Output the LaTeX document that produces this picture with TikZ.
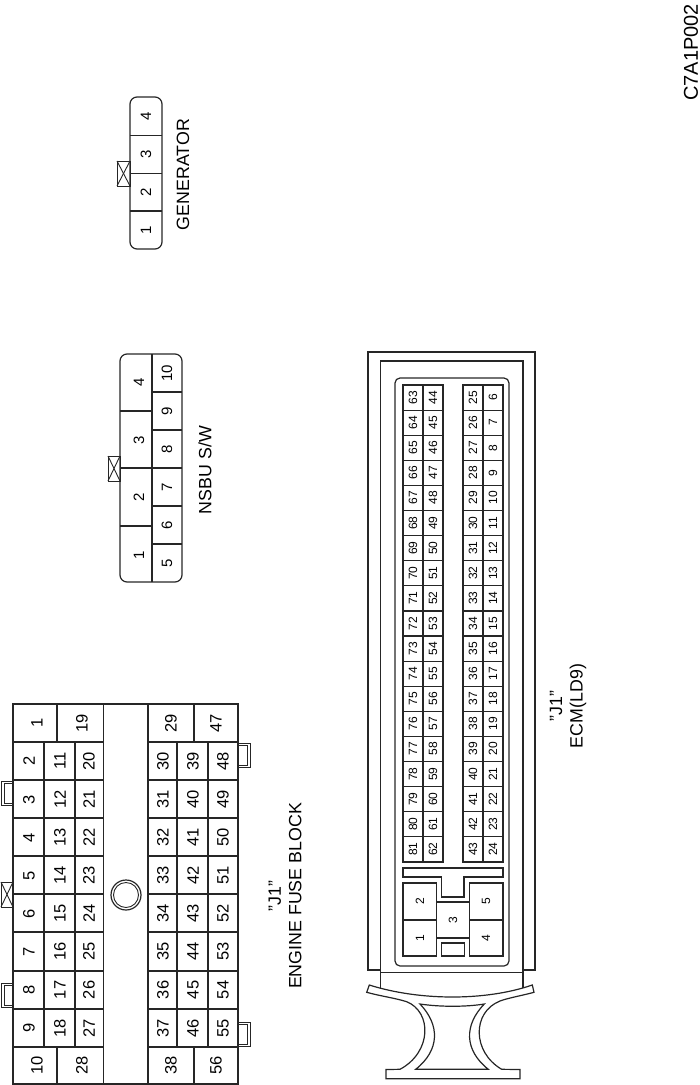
\documentclass[tikz,border=0pt]{standalone}
\usepackage{fontspec}
\setmainfont{Liberation Sans}
\tikzset{
	wire/.style={draw=black!85, line width=1.2pt},
	thinwire/.style={draw=black!85, line width=0.9pt},
	bignum/.style={rotate=90, inner sep=0pt, font=\fontsize{16.5}{16.5}\selectfont},
	midnum/.style={rotate=90, inner sep=0pt, font=\fontsize{15}{15}\selectfont},
	pinnum/.style={rotate=90, inner sep=0pt, font=\fontsize{12}{12}\selectfont},
	caption/.style={rotate=90, inner sep=0pt, align=center, font=\fontsize{17.8}{20.5}\selectfont},
}
\begin{document}
\begin{tikzpicture}[x=1pt, y=-1pt]
	\useasboundingbox (0,0) rectangle (700,1085);

	% fuse block
	\draw[wire] (13,704) rectangle (238,1084);
	\draw[wire] (103.5,704) -- (103.5,1084);
	\draw[wire] (148,704) -- (148,1084);
	\foreach \y in {742,780,818,856,894,932,971,1009,1047} {
		\draw[wire] (13,\y) -- (103.5,\y);
		\draw[wire] (148,\y) -- (238,\y);
	}
	\draw[wire] (57,704) -- (57,742);
	\draw[wire] (57,1047) -- (57,1084);
	\draw[wire] (194,704) -- (194,742);
	\draw[wire] (194,1047) -- (194,1084);
	\foreach \x in {44,75,177,208} {
		\draw[wire] (\x,742) -- (\x,1047);
	}
	\foreach \i in {0,...,7} {
		\pgfmathsetmacro{\ypos}{1028-38.1*\i}
		\pgfmathtruncatemacro{\na}{9-\i}
		\pgfmathtruncatemacro{\nb}{18-\i}
		\pgfmathtruncatemacro{\nc}{27-\i}
		\pgfmathtruncatemacro{\nd}{37-\i}
		\pgfmathtruncatemacro{\ne}{46-\i}
		\pgfmathtruncatemacro{\nf}{55-\i}
		\node[bignum] (fa\i) at (29,\ypos) {\na};
		\node[bignum] (fb\i) at (60,\ypos) {\nb};
		\node[bignum] (fc\i) at (89,\ypos) {\nc};
		\node[bignum] (fd\i) at (163,\ypos) {\nd};
		\node[bignum] (fe\i) at (193,\ypos) {\ne};
		\node[bignum] (ff\i) at (223,\ypos) {\nf};
	}
	\node[bignum] (f1) at (37,723) {1};
	\node[bignum] (f19) at (82,723) {19};
	\node[bignum] (f29) at (171,723) {29};
	\node[bignum] (f47) at (216,723) {47};
	\node[bignum] (f10) at (37,1065) {10};
	\node[bignum] (f28) at (82,1065) {28};
	\node[bignum] (f38) at (171,1065) {38};
	\node[bignum] (f56) at (216,1065) {56};
	\draw[wire] (126,895) circle (15);
	\draw[thinwire] (126,895) circle (12.5);

	% fuse block clips
	\foreach \y in {781,983} {
		\draw[thinwire] (13,\y) -- (1,\y) -- (1,\y+24) -- (13,\y+24);
		\draw[thinwire] (13,\y+2) -- (4,\y+2) -- (4,\y+22) -- (13,\y+22);
	}
	\foreach \y in {743,1022} {
		\draw[thinwire] (238,\y) -- (250,\y) -- (250,\y+24) -- (238,\y+24);
		\draw[thinwire] (238,\y+2) -- (247,\y+2) -- (247,\y+22) -- (238,\y+22);
	}
	\draw[thinwire] (1,882) rectangle (13,907);
	\draw[thinwire] (1,882) -- (13,907);
	\draw[thinwire] (1,907) -- (13,882);
	\node[caption] (fuselabel) at (285,896) {"J1"\\ENGINE FUSE BLOCK};

	% NSBU connector
	\draw[wire, rounded corners=7pt] (120,354) rectangle (182,582);
	\draw[wire] (152,354) -- (152,582);
	\foreach \y in {411,468,526} {
		\draw[wire] (120,\y) -- (152,\y);
	}
	\foreach \y in {392,430,468,506,544} {
		\draw[wire] (152,\y) -- (182,\y);
	}
	\foreach \n/\y in {4/382,3/440,2/497,1/555} {
		\node[midnum] (ns\n) at (139,\y) {\n};
	}
	\foreach \n/\y in {10/373,9/411,8/449,7/487,6/525,5/563} {
		\node[midnum] (nt\n) at (167,\y) {\n};
	}
	\draw[thinwire] (108,456) rectangle (120,481);
	\draw[thinwire] (108,456) -- (120,481);
	\draw[thinwire] (108,481) -- (120,456);
	\node[caption] (nsbulabel) at (205,470) {NSBU S/W};

	% generator connector
	\draw[wire, rounded corners=7pt] (130,97) rectangle (162,249);
	\foreach \y in {135.5,173.5,211} {
		\draw[wire] (130,\y) -- (162,\y);
	}
	\foreach \n/\y in {4/116,3/154,2/192,1/230} {
		\node[midnum] (g\n) at (146,\y) {\n};
	}
	\draw[thinwire] (117,161) rectangle (130,186);
	\draw[thinwire] (117,161) -- (130,186);
	\draw[thinwire] (117,186) -- (130,161);
	\node[caption] (genlabel) at (183,174.5) {GENERATOR};

	% ECM housing
	\draw[wire] (380.5,970) -- (368,970) -- (368,352) -- (535,352) -- (535,970) -- (523,970);
	\draw[wire] (380.5,988) -- (380.5,361) -- (523,361) -- (523,988);
	\draw[thinwire] (380.5,972) -- (523,972);
	\draw[wire, rounded corners=5pt] (395,378) rectangle (509,966);

	% ECM pins
	\draw[wire] (403,385) rectangle (443,862);
	\draw[wire] (463,385) rectangle (503,862);
	\draw[wire] (423,385) -- (423,862);
	\draw[wire] (483,385) -- (483,862);
	\foreach \i in {0,...,18} {
		\pgfmathsetmacro{\ypos}{397.5+25.1*\i}
		\pgfmathsetmacro{\yline}{385+25.1*\i}
		\pgfmathtruncatemacro{\na}{63+\i}
		\pgfmathtruncatemacro{\nb}{44+\i}
		\pgfmathtruncatemacro{\nc}{25+\i}
		\pgfmathtruncatemacro{\nd}{6+\i}
		\draw[wire] (403,\yline) -- (443,\yline);
		\draw[wire] (463,\yline) -- (503,\yline);
		\node[pinnum] (ea\i) at (413,\ypos) {\na};
		\node[pinnum] (eb\i) at (433,\ypos) {\nb};
		\node[pinnum] (ec\i) at (473,\ypos) {\nc};
		\node[pinnum] (ed\i) at (493,\ypos) {\nd};
	}

	% ECM power cavities
	\draw[wire] (403,868) -- (503,868) -- (503,877) -- (464,877) -- (464,897) -- (441.5,897) -- (441.5,877) -- (403,877) -- cycle;
	\draw[wire] (403,883) rectangle (436.5,956);
	\draw[wire] (403,920) -- (436.5,920);
	\draw[wire] (469.5,883) rectangle (503,956);
	\draw[wire] (469.5,920) -- (503,920);
	\draw[wire] (436.5,902) -- (469.5,902);
	\draw[wire] (436.5,938) -- (469.5,938);
	\draw[wire] (441.5,943) rectangle (464.5,956);
	\node[pinnum] (e1) at (420,938) {1};
	\node[pinnum] (e2) at (420,901) {2};
	\node[pinnum] (e3) at (453,920) {3};
	\node[pinnum] (e4) at (486,938) {4};
	\node[pinnum] (e5) at (486,901) {5};

	% ECM lever
	\draw[wire] (369.3,985) .. controls (420,1001) and (486,1001) .. (532.3,985)
		-- (534,992.3) .. controls (520,996) and (508,998) .. (500,1001)
		.. controls (472,1012) and (472,1052) .. (501.7,1069.3)
		-- (520,1069.5) -- (520,1078.7) -- (386,1078.7) -- (386,1069.5) -- (400,1069.3)
		.. controls (432,1052) and (432,1012) .. (406.7,1001.7)
		.. controls (395,998) and (380,996) .. (366.7,992.3) -- cycle;
	\draw[wire] (420,1004) .. controls (440,1007) and (466,1007) .. (484.3,1004)
		.. controls (464,1025) and (464,1050) .. (488.3,1069.3)
		-- (415.7,1069.3)
		.. controls (440,1050) and (440,1025) .. cycle;

	\node[caption] (ecmlabel) at (568,706) {"J1"\\ECM(LD9)};
	\node[caption, font=\fontsize{20}{20}\selectfont] (code) at (691,52.5) {C7A1P002};
\end{tikzpicture}
\end{document}
